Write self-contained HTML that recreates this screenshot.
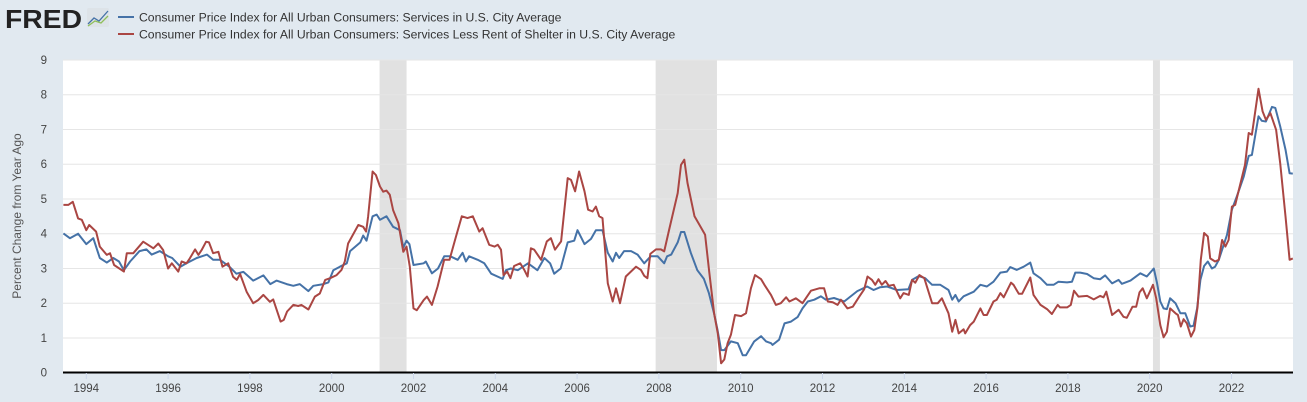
<!DOCTYPE html>
<html><head><meta charset="utf-8">
<style>
html,body{margin:0;padding:0;background:#e1e9f0;}
#wrap{position:relative;width:1307px;height:402px;overflow:hidden;background:#e1e9f0;font-family:"Liberation Sans",sans-serif;}
svg text{font-family:"Liberation Sans",sans-serif;}
</style></head>
<body>
<div id="wrap">
<svg id="chart" width="1307" height="402" xmlns="http://www.w3.org/2000/svg">
  <g>
    <text x="5" y="28" font-size="26" font-weight="bold" fill="#222" textLength="77" lengthAdjust="spacingAndGlyphs">FRED</text>
    <rect x="87" y="8" width="22" height="19" fill="#dde3e8" rx="2"/>
    <polyline points="88,24 94,18 99,21 108,11" fill="none" stroke="#4572a7" stroke-width="1.3"/>
    <polyline points="88,26 95,21 101,23 108,16" fill="none" stroke="#8fbf5a" stroke-width="1.3"/>
  </g>
  <g>
    <g>
      <line x1="118" y1="17" x2="134" y2="17" stroke="#4572a7" stroke-width="2"/>
      <text x="139" y="21.5" font-size="12.2" fill="#333">Consumer Price Index for All Urban Consumers: Services in U.S. City Average</text>
    </g>
    <g>
      <line x1="118" y1="34" x2="134" y2="34" stroke="#aa4643" stroke-width="2"/>
      <text x="139" y="38.5" font-size="12.2" fill="#333">Consumer Price Index for All Urban Consumers: Services Less Rent of Shelter in U.S. City Average</text>
    </g>
  </g>
  <rect x="63" y="60" width="1230" height="313" fill="#fff"/>
  <g id="rec"></g>
  <g id="grid"></g>
  <g id="series"></g>
  <line x1="63" y1="372.5" x2="1293" y2="372.5" stroke="#000" stroke-width="2"/>
  <g id="xaxis"></g>
  <g id="yaxis"></g>
  <text x="21" y="216" font-size="12" fill="#555" text-anchor="middle" transform="rotate(-90 21 216)">Percent Change from Year Ago</text>
</svg>
</div>
<script>
const yTicks=[0,1,2,3,4,5,6,7,8,9];
const xTickYears=[1994,1996,1998,2000,2002,2004,2006,2008,2010,2012,2014,2016,2018,2020,2022];
const recessionStarts=[2001.17,2007.92,2020.08];
const recessionEnds=[2001.83,2009.42,2020.25];
const blueDates=[1993.44,1993.6,1993.8,1994.0,1994.17,1994.33,1994.5,1994.66,1994.8,1994.92,1995.07,1995.3,1995.47,1995.6,1995.8,1996.0,1996.1,1996.3,1996.45,1996.7,1996.95,1997.1,1997.27,1997.5,1997.67,1997.84,1998.08,1998.33,1998.5,1998.65,1998.9,1999.06,1999.22,1999.43,1999.55,1999.8,1999.92,2000.04,2000.2,2000.37,2000.45,2000.7,2000.77,2000.85,2001.0,2001.1,2001.18,2001.34,2001.5,2001.67,2001.75,2001.83,2001.9,2002.0,2002.25,2002.3,2002.45,2002.6,2002.75,2002.9,2003.08,2003.2,2003.28,2003.36,2003.57,2003.73,2003.9,2004.18,2004.26,2004.38,2004.55,2004.8,2005.03,2005.2,2005.34,2005.44,2005.6,2005.77,2005.93,2006.01,2006.18,2006.34,2006.46,2006.62,2006.75,2006.87,2006.95,2007.03,2007.15,2007.32,2007.48,2007.64,2007.8,2007.97,2008.13,2008.2,2008.3,2008.46,2008.54,2008.62,2008.78,2008.94,2009.1,2009.22,2009.35,2009.43,2009.52,2009.6,2009.76,2009.93,2010.05,2010.13,2010.33,2010.5,2010.62,2010.74,2010.78,2010.94,2011.07,2011.23,2011.39,2011.51,2011.64,2011.8,2011.96,2012.08,2012.28,2012.53,2012.85,2013.09,2013.25,2013.41,2013.58,2013.82,2014.1,2014.19,2014.35,2014.51,2014.68,2014.88,2015.08,2015.17,2015.25,2015.33,2015.45,2015.7,2015.86,2016.02,2016.18,2016.35,2016.51,2016.59,2016.75,2016.92,2017.08,2017.16,2017.33,2017.49,2017.65,2017.77,2017.98,2018.1,2018.18,2018.3,2018.47,2018.63,2018.79,2018.91,2019.08,2019.24,2019.32,2019.53,2019.77,2019.93,2020.1,2020.18,2020.26,2020.34,2020.42,2020.5,2020.63,2020.75,2020.87,2020.99,2021.07,2021.16,2021.24,2021.33,2021.42,2021.52,2021.6,2021.69,2021.89,2022.01,2022.13,2022.3,2022.42,2022.5,2022.66,2022.74,2022.84,2022.99,2023.07,2023.19,2023.32,2023.42,2023.5];
const blueValues=[4.01,3.87,4.0,3.7,3.87,3.3,3.17,3.3,3.2,2.95,3.2,3.5,3.55,3.4,3.5,3.35,3.3,3.05,3.15,3.3,3.4,3.25,3.25,3.05,2.85,2.9,2.65,2.8,2.55,2.65,2.55,2.5,2.55,2.35,2.5,2.55,2.6,2.95,3.05,3.15,3.5,3.75,3.95,3.8,4.5,4.55,4.4,4.5,4.2,4.1,3.6,3.8,3.7,3.1,3.15,3.2,2.86,3.0,3.35,3.35,3.25,3.45,3.2,3.35,3.25,3.15,2.85,2.7,2.95,3.0,2.95,3.15,2.95,3.3,3.15,2.85,3.0,3.75,3.8,4.1,3.7,3.85,4.1,4.1,3.45,3.2,3.45,3.3,3.5,3.5,3.4,3.15,3.35,3.35,3.15,3.35,3.4,3.75,4.05,4.05,3.45,2.95,2.7,2.3,1.7,1.25,0.65,0.65,0.9,0.85,0.5,0.5,0.9,1.05,0.9,0.85,0.8,0.95,1.42,1.47,1.6,1.85,2.05,2.1,2.2,2.1,2.15,2.05,2.35,2.48,2.38,2.46,2.48,2.38,2.4,2.67,2.78,2.72,2.53,2.53,2.38,2.1,2.24,2.05,2.2,2.33,2.53,2.48,2.62,2.88,2.91,3.04,2.96,3.05,3.17,2.86,2.72,2.53,2.53,2.62,2.6,2.62,2.88,2.88,2.84,2.72,2.69,2.8,2.57,2.67,2.56,2.65,2.86,2.77,3.0,2.57,2.05,1.85,1.83,2.14,2.0,1.71,1.71,1.33,1.35,1.85,2.67,3.07,3.2,3.0,3.05,3.25,3.97,4.69,5.07,5.65,6.24,6.27,7.38,7.25,7.23,7.65,7.62,7.09,6.42,5.74,5.73];
const redDates=[1993.44,1993.56,1993.67,1993.8,1993.89,1994.0,1994.07,1994.24,1994.33,1994.5,1994.58,1994.68,1994.92,1994.99,1995.15,1995.39,1995.64,1995.76,1995.88,1996.0,1996.09,1996.25,1996.33,1996.45,1996.53,1996.66,1996.74,1996.82,1996.93,1997.0,1997.1,1997.23,1997.33,1997.47,1997.59,1997.68,1997.76,1997.92,1998.08,1998.2,1998.33,1998.49,1998.57,1998.75,1998.83,1998.91,1999.06,1999.18,1999.26,1999.43,1999.59,1999.71,1999.84,1999.96,2000.12,2000.24,2000.32,2000.4,2000.65,2000.77,2000.84,2000.89,2001.0,2001.08,2001.18,2001.26,2001.34,2001.42,2001.5,2001.63,2001.75,2001.83,2001.91,2002.0,2002.08,2002.25,2002.33,2002.45,2002.59,2002.75,2002.88,2003.04,2003.18,2003.32,2003.45,2003.61,2003.69,2003.85,2003.98,2004.06,2004.14,2004.2,2004.29,2004.37,2004.46,2004.61,2004.71,2004.79,2004.87,2004.95,2005.12,2005.26,2005.36,2005.46,2005.61,2005.77,2005.85,2005.95,2006.05,2006.18,2006.27,2006.38,2006.46,2006.54,2006.62,2006.75,2006.87,2006.95,2007.05,2007.19,2007.44,2007.56,2007.64,2007.72,2007.79,2007.93,2008.05,2008.13,2008.25,2008.46,2008.54,2008.62,2008.7,2008.87,2008.99,2009.13,2009.23,2009.35,2009.44,2009.52,2009.6,2009.68,2009.76,2009.86,2010.01,2010.13,2010.25,2010.35,2010.5,2010.58,2010.74,2010.86,2010.98,2011.11,2011.19,2011.35,2011.51,2011.72,2011.92,2012.04,2012.13,2012.25,2012.37,2012.45,2012.61,2012.74,2012.9,2013.02,2013.1,2013.21,2013.29,2013.37,2013.45,2013.54,2013.62,2013.74,2013.9,2013.98,2014.11,2014.19,2014.27,2014.37,2014.49,2014.68,2014.82,2014.92,2015.08,2015.17,2015.25,2015.33,2015.45,2015.49,2015.61,2015.7,2015.86,2015.94,2016.02,2016.18,2016.26,2016.35,2016.43,2016.61,2016.67,2016.8,2016.88,2017.08,2017.16,2017.33,2017.49,2017.61,2017.75,2017.81,2017.98,2018.07,2018.15,2018.26,2018.47,2018.63,2018.79,2018.87,2018.94,2019.08,2019.24,2019.36,2019.44,2019.58,2019.67,2019.75,2019.83,2019.93,2020.08,2020.16,2020.26,2020.34,2020.42,2020.5,2020.63,2020.69,2020.76,2020.83,2020.91,2021.01,2021.09,2021.17,2021.25,2021.33,2021.42,2021.48,2021.6,2021.69,2021.77,2021.85,2021.93,2022.01,2022.09,2022.33,2022.42,2022.5,2022.66,2022.76,2022.84,2022.95,2023.09,2023.19,2023.32,2023.42,2023.5];
const redValues=[4.83,4.83,4.92,4.44,4.4,4.1,4.25,4.06,3.63,3.39,3.44,3.1,2.91,3.44,3.44,3.77,3.58,3.72,3.53,3.0,3.15,2.91,3.2,3.15,3.29,3.55,3.39,3.53,3.77,3.75,3.44,3.48,3.05,3.15,2.76,2.67,2.84,2.33,2.0,2.09,2.24,2.04,2.11,1.47,1.52,1.76,1.95,1.92,1.95,1.82,2.19,2.28,2.67,2.72,2.81,2.96,3.2,3.72,4.25,4.2,4.06,4.49,5.79,5.69,5.36,5.21,5.24,5.12,4.68,4.3,3.48,3.63,3.05,1.85,1.8,2.09,2.19,1.95,2.48,3.25,3.25,3.92,4.5,4.45,4.5,4.06,4.16,3.68,3.63,3.68,3.54,2.81,2.91,2.72,3.07,3.15,2.96,2.77,3.58,3.54,3.25,3.78,3.87,3.54,3.78,5.6,5.55,5.22,5.79,5.22,4.69,4.64,4.78,4.5,4.45,2.57,2.05,2.43,2.0,2.77,3.05,2.96,2.79,2.72,3.42,3.55,3.55,3.49,4.11,5.17,5.98,6.13,5.46,4.5,4.26,3.97,2.91,1.71,1.13,0.27,0.38,0.85,1.09,1.66,1.63,1.71,2.43,2.81,2.69,2.53,2.24,1.95,2.0,2.17,2.05,2.14,2.0,2.36,2.43,2.43,2.05,2.03,1.95,2.1,1.85,1.9,2.19,2.4,2.77,2.67,2.53,2.69,2.53,2.64,2.5,2.53,2.14,2.29,2.24,2.67,2.59,2.81,2.72,2.0,2.0,2.14,1.71,1.18,1.52,1.13,1.25,1.13,1.37,1.47,1.85,1.66,1.66,2.05,2.1,2.29,2.17,2.59,2.53,2.27,2.27,2.74,2.24,1.95,1.83,1.69,1.95,1.88,1.88,1.95,2.36,2.19,2.21,2.11,2.21,2.17,2.33,1.66,1.81,1.61,1.58,1.9,1.9,2.31,2.43,2.14,2.53,2.14,1.37,1.02,1.18,1.85,1.71,1.66,1.33,1.54,1.42,1.04,1.23,1.9,3.25,4.02,3.92,3.29,3.2,3.25,3.82,3.63,3.82,4.78,4.83,5.98,6.9,6.85,8.17,7.52,7.28,7.47,6.99,6.03,4.5,3.25,3.29];

const NS='http://www.w3.org/2000/svg';
const X0=63,X1=1293,YB=372.7,YT=60;
const yearOrigin=1994,yearOriginPx=86.3,pxPerYear=40.9;
function xs(t){return yearOriginPx+(t-yearOrigin)*pxPerYear;}
function ys(v){return YB-(v/9)*(YB-YT);}
function mk(tag,attrs,parent){const e=document.createElementNS(NS,tag);for(const k in attrs)e.setAttribute(k,attrs[k]);parent.appendChild(e);return e;}

const rec=document.getElementById('rec');
recessionStarts.forEach((s,i)=>{
  const r=mk('rect',{x:xs(s),y:YT,width:xs(recessionEnds[i])-xs(s),height:YB-YT,fill:'#e1e1e1'},rec);
  
  
});
const grid=document.getElementById('grid'),yaxis=document.getElementById('yaxis');
yTicks.forEach(v=>{
  if(v>0){const l=mk('line',{x1:X0,x2:X1,y1:ys(v),y2:ys(v),stroke:'#e6e6e6','stroke-width':1},grid);
  
  }
  const t=mk('text',{x:47,y:ys(v)+4,'font-size':11.5,fill:'#444','text-anchor':'end'},yaxis);
  t.textContent=v;
  
  
});
const xaxis=document.getElementById('xaxis');
xTickYears.forEach(y=>{
  const tk=mk('line',{x1:xs(y),x2:xs(y),y1:373,y2:379,stroke:'#ccd6eb','stroke-width':1},xaxis);
  
  
  const t=mk('text',{x:xs(y),y:392,'font-size':11.5,fill:'#444','text-anchor':'middle'},xaxis);
  t.textContent=y;
  
  
});
const series=document.getElementById('series');
function drawLine(dates,vals,color,name){
  const pts=dates.map((d,i)=>xs(d).toFixed(1)+','+ys(vals[i]).toFixed(1)).join(' ');
  const p=mk('polyline',{points:pts,fill:'none',stroke:color,'stroke-width':2,'stroke-linejoin':'round'},series);
  
  
}
drawLine(blueDates,blueValues,'#4572a7','services-line');
drawLine(redDates,redValues,'#aa4643','services-less-shelter-line');
</script>
</body></html>
